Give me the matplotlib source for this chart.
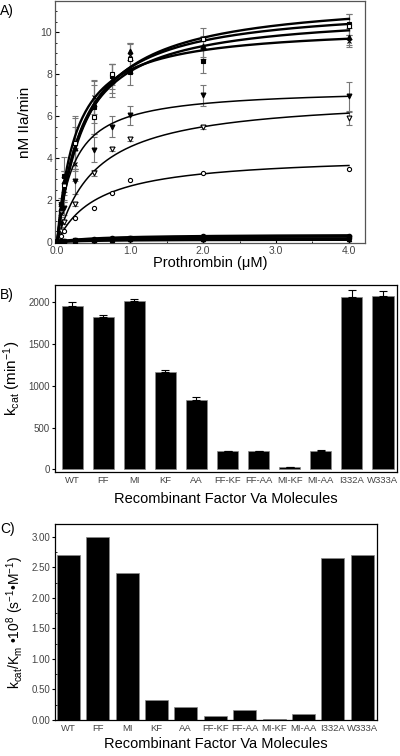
import numpy as np
import matplotlib.pyplot as plt
from matplotlib.ticker import MultipleLocator

plt.rcParams['font.family'] = ['Liberation Sans', 'DejaVu Sans']
plt.rcParams['mathtext.fontset'] = 'custom'
plt.rcParams['mathtext.rm'] = 'Liberation Sans'
plt.rcParams['mathtext.it'] = 'Liberation Sans'

# --- panel A: prothrombin titration ---
conc = [0, 0.05, 0.1, 0.25, 0.5, 0.75, 1.0, 2.0, 4.0]

sq_fill = [0, 1.8, 3.15, 4.7, 6.45, 7.9, 8.1, 8.65, 10.4]
sq_fill_err = [0, 0.3, 0.9, 1.3, 1.3, 0.6, 0.6, 0.6, 0.5]
sq_open = [0, 1.5, 2.7, 4.7, 5.95, 8.0, 8.75, 9.7, 10.3]
sq_open_err = [0, 0.3, 0.7, 1.2, 0.8, 0.5, 0.7, 0.5, 0.6]
cross = [0, 1.4, 2.5, 3.7, 6.9, 7.8, 8.9, 9.25, 9.6]
cross_err = [0, 0.3, 0.6, 0.8, 0.8, 0.7, 0.6, 0.5, 0.3]
tri_up = [0, 1.6, 2.9, 4.5, 6.6, 7.7, 9.1, 9.35, 9.8]
tri_up_err = [0, 0.3, 0.5, 1.0, 0.9, 0.8, 0.4, 0.5, 0.4]
tri_dn = [0, 0.9, 1.6, 2.9, 4.4, 5.5, 6.05, 7.0, 6.95]
tri_dn_err = [0, 0.2, 0.3, 0.6, 0.6, 0.5, 0.45, 0.5, 0.7]
tri_open = [0, 0.5, 0.95, 1.8, 3.3, 4.45, 4.9, 5.5, 5.9]
tri_open_err = [0, 0.05, 0.1, 0.1, 0.15, 0.1, 0.1, 0.1, 0.3]
circ_open = [0, 0.3, 0.5, 1.15, 1.6, 2.35, 2.95, 3.3, 3.5]
low_a = [0, 0.03, 0.05, 0.08, 0.13, 0.17, 0.2, 0.27, 0.3]
low_b = [0, 0.02, 0.04, 0.07, 0.11, 0.14, 0.17, 0.22, 0.25]
low_c = [0, 0.01, 0.03, 0.05, 0.08, 0.1, 0.12, 0.14, 0.15]
low_d = [0, 0.01, 0.02, 0.03, 0.05, 0.07, 0.08, 0.09, 0.1]

# fitted Michaelis-Menten parameters (Vmax nM/min, Km uM)
fit_vmax = [11.73, 11.35, 10.98, 10.32, 7.34, 6.97, 4.16, 0.36, 0.30, 0.19, 0.12]
fit_km = [0.407, 0.364, 0.349, 0.256, 0.224, 0.536, 0.561, 0.6, 0.6, 0.6, 0.6]

# --- panels B and C ---
mutants = ['WT', 'FF', 'MI', 'KF', 'AA', 'FF-KF', 'FF-AA', 'MI-KF', 'MI-AA', 'I332A', 'W333A']
kcat = [1960, 1830, 2020, 1170, 835, 220, 222, 25, 225, 2065, 2075]
kcat_err = [40, 20, 20, 20, 30, 5, 5, 5, 5, 85, 65]
kcat_km = [2.70, 3.00, 2.40, 0.33, 0.21, 0.06, 0.17, 0.01, 0.10, 2.65, 2.71]

fig = plt.figure(figsize=(4, 7.56), dpi=100)
tick_col = '#444444'

# ---------- A ----------
ax = fig.add_axes([0.1375, 0.6786, 0.775, 0.3201])
series = [
    (sq_fill, sq_fill_err, 's', 'k'),
    (sq_open, sq_open_err, 's', 'w'),
    (cross, cross_err, 'x', 'k'),
    (tri_up, tri_up_err, '^', 'k'),
    (tri_dn, tri_dn_err, 'v', 'k'),
    (tri_open, tri_open_err, 'v', 'w'),
]
for ys, err, mk, fc in series:
    ax.errorbar(conc, ys, yerr=err, fmt='none', ecolor='#777777', elinewidth=0.8,
                capsize=2.5, capthick=0.8, zorder=2)
    ax.plot(conc, ys, ls='none', marker=mk, ms=3.5, mfc=fc, mec='k', mew=0.8, zorder=4)
ax.plot(conc, circ_open, ls='none', marker='o', ms=3, mfc='w', mec='k', mew=0.8, zorder=4)
for ys, mk in [(low_a, 'o'), (low_b, 's'), (low_c, '^'), (low_d, 'v')]:
    ax.plot(conc, ys, ls='none', marker=mk, ms=3, mfc='k', mec='k', zorder=4)

xf = np.linspace(0, 4, 300)
for i, (vm, km) in enumerate(zip(fit_vmax, fit_km)):
    lw = 1.7 if i < 4 else (1.1 if i < 7 else 1.8)
    ax.plot(xf, vm * xf / (km + xf), color='k', lw=lw, zorder=3)

ax.set_xlim(-0.03, 4.22)
ax.set_ylim(-0.05, 11.5)
ax.set_xticks([0, 1, 2, 3, 4])
ax.set_xticklabels(['0.0', '1.0', '2.0', '3.0', '4.0'])
ax.xaxis.set_minor_locator(MultipleLocator(0.5))
ax.set_yticks([0, 2, 4, 6, 8, 10])
ax.yaxis.set_minor_locator(MultipleLocator(0.5))
ax.tick_params(which='both', direction='in', labelsize=7.5, labelcolor=tick_col, pad=2)
ax.tick_params(which='major', length=3)
ax.tick_params(which='minor', length=1.5)
ax.set_xlabel('Prothrombin (\u03bcM)', fontsize=10.5, labelpad=0)
ax.set_ylabel('nM IIa/min', fontsize=11, labelpad=6)
for s in ax.spines.values():
    s.set_color('#555555')
    s.set_linewidth(0.9)
fig.text(0.0, 0.985, 'A)', fontsize=10, va='center')

# ---------- B ----------
xpos = np.arange(len(mutants))
bx = fig.add_axes([0.1375, 0.3757, 0.855, 0.2474])
bx.bar(xpos, kcat, width=0.68, color='k', edgecolor='#888888', linewidth=0.5)
bx.errorbar(xpos, kcat, yerr=[np.zeros(len(kcat)), kcat_err], fmt='none', ecolor='k',
            elinewidth=0.8, capsize=3, capthick=0.8)
bx.set_xlim(-0.55, 10.45)
bx.set_ylim(-30, 2210)
bx.set_xticks(xpos)
bx.set_xticklabels(mutants)
bx.set_yticks([0, 500, 1000, 1500, 2000])
bx.tick_params(axis='x', length=0, labelsize=6.8, labelcolor=tick_col, pad=3)
bx.tick_params(axis='y', length=2.5, labelsize=7, labelcolor=tick_col, pad=1)
bx.set_xlabel('Recombinant Factor Va Molecules', fontsize=10.5, labelpad=5)
bx.set_ylabel('k$_{cat}$ (min$^{-1}$)', fontsize=11, labelpad=4)
for s in bx.spines.values():
    s.set_linewidth(0.9)
fig.text(0.0, 0.61, 'B)', fontsize=10, va='center')

# ---------- C ----------
cx = fig.add_axes([0.1375, 0.0476, 0.805, 0.2593])
cx.bar(xpos, kcat_km, width=0.78, color='k', edgecolor='#888888', linewidth=0.5)
cx.set_xlim(-0.45, 10.5)
cx.set_ylim(0, 3.21)
cx.set_xticks(xpos)
cx.set_xticklabels(mutants)
cx.set_yticks([0, 0.5, 1.0, 1.5, 2.0, 2.5, 3.0])
cx.set_yticklabels(['%.2f' % v for v in [0, 0.5, 1.0, 1.5, 2.0, 2.5, 3.0]])
cx.yaxis.set_minor_locator(MultipleLocator(0.25))
cx.tick_params(axis='x', length=0, labelsize=6.8, labelcolor=tick_col, pad=3)
cx.tick_params(axis='y', which='major', length=2.5, labelsize=7, labelcolor=tick_col, pad=1)
cx.tick_params(axis='y', which='minor', length=1.5, direction='in')
cx.set_xlabel('Recombinant Factor Va Molecules', fontsize=10.5, labelpad=3)
cx.set_ylabel('k$_{cat}$/K$_m$ \u202210$^8$ (s$^{-1}$\u2022M$^{-1}$)', fontsize=10, labelpad=4)
for s in cx.spines.values():
    s.set_linewidth(0.9)
fig.text(0.0, 0.30, 'C)', fontsize=10, va='center')

fig.savefig('out.png', dpi=100)
